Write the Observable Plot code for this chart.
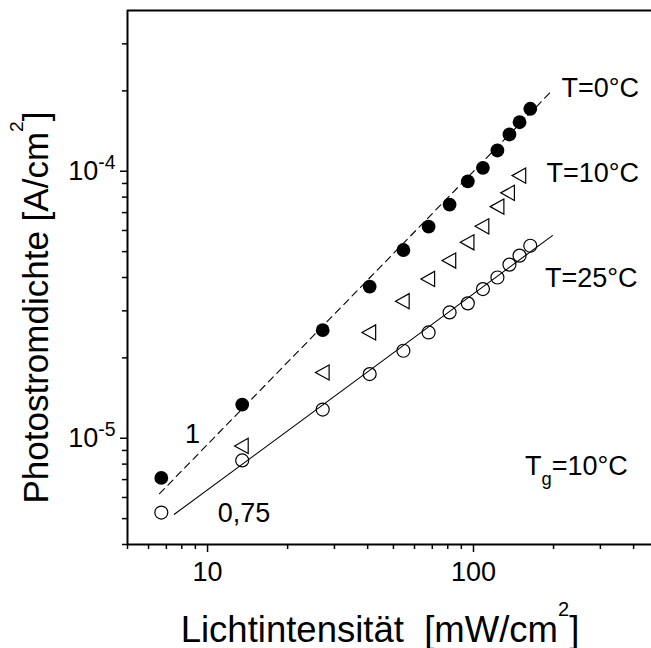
<!DOCTYPE html>
<html><head><meta charset="utf-8">
<script src="https://cdn.jsdelivr.net/npm/d3@7"></script>
<script src="https://cdn.jsdelivr.net/npm/@observablehq/plot@0.6"></script>
<style>body{margin:0;background:#fff;} svg text{white-space:pre;}</style>
</head><body><div id="chart"></div>
<script>
// Light intensity (mW/cm^2) for the circle series
const intensity = [6.7, 13.5, 27.1, 40.7, 54.5, 67.8, 81.3, 95.2, 108.5, 123, 136.5, 149, 163.5];
// T = 0 °C (filled circles)
const current0 = [7.1e-6, 1.337e-5, 2.54e-5, 3.70e-5, 5.07e-5, 6.20e-5, 7.50e-5, 9.17e-5, 1.03e-4, 1.196e-4, 1.373e-4, 1.526e-4, 1.714e-4];
// T = 25 °C (open circles)
const current25 = [5.27e-6, 8.26e-6, 1.281e-5, 1.739e-5, 2.127e-5, 2.49e-5, 2.96e-5, 3.20e-5, 3.62e-5, 4.00e-5, 4.47e-5, 4.83e-5, 5.26e-5];
// T = 10 °C (triangles)
const intensity10 = [13.4, 27, 40.4, 54, 67.3, 80.8, 94.6, 107.6, 122.6, 134.3, 148.1];
const current10 = [9.36e-6, 1.763e-5, 2.49e-5, 3.26e-5, 3.95e-5, 4.63e-5, 5.42e-5, 6.22e-5, 7.37e-5, 8.30e-5, 9.63e-5];
// Fit lines (slope 1 dashed, slope 0.75 solid)
const fitDashX = [6.6, 196];
const fitDashY = [6.2e-6, 1.99e-4];
const fitSolidX = [7.5, 198];
const fitSolidY = [5.19e-6, 5.74e-5];
// Ticks
const xMajor = [10, 100];
const xTickLabels = ["10", "100"];
const xMinor = [5, 6, 7, 8, 9, 20, 30, 40, 50, 60, 70, 80, 90, 200, 300, 400];
const yMajor = [1e-5, 1e-4];
const yTickLabels = ["10^{-5}", "10^{-4}"];
const yMinor = [4e-6, 5e-6, 6e-6, 7e-6, 8e-6, 9e-6, 2e-5, 3e-5, 4e-5, 5e-5, 6e-5, 7e-5, 8e-5, 9e-5, 2e-4, 3e-4];
// Annotations
const labelText = ["T=0°C", "T=10°C", "T=25°C", "T_{g}=10°C", "1", "0,75"];
const labelX = [214.2, 188.1, 185.7, 156.2, 8.23, 10.93];
const labelY = [1.895e-4, 9.09e-5, 3.67e-5, 7.29e-6, 9.63e-6, 4.85e-6];
const xTitle = "Lichtintensität  [mW/cm^{2}]";
const yTitle = "Photostromdichte [A/cm^{2}]";

const filled = intensity.map((x, i) => ({x, y: current0[i]}));
const open = intensity.map((x, i) => ({x, y: current25[i]}));
const tri = intensity10.map((x, i) => ({x, y: current10[i]}));
const dash = fitDashX.map((x, i) => ({x, y: fitDashY[i]}));
const solid = fitSolidX.map((x, i) => ({x, y: fitSolidY[i]}));
const labels = labelText.map((t, i) => ({t, x: labelX[i], y: labelY[i]}));

const leftTriangle = {
  draw(ctx, size) {
    const r = Math.sqrt(size / Math.PI);
    ctx.moveTo(-0.9 * r, 0);
    ctx.lineTo(0.9 * r, -r);
    ctx.lineTo(0.9 * r, r);
    ctx.closePath();
  }
};

const svg = Plot.plot({
  width: 651, height: 648,
  marginLeft: 127, marginRight: 0, marginTop: 10, marginBottom: 104,
  style: {fontFamily: "'Liberation Sans', Arial, sans-serif", background: "white", color: "black"},
  x: {type: "log", domain: [5, 467], axis: null},
  y: {type: "log", domain: [4e-6, 4e-4], axis: null},
  marks: [
    Plot.axisX(xMinor, {anchor: "bottom", tickSize: 5, tickFormat: () => "", strokeWidth: 1.5, label: null}),
    Plot.axisX(xMajor, {anchor: "bottom", tickSize: 8, tickPadding: 9, fontSize: 27, strokeWidth: 1.5, label: null,
      tickFormat: d => xTickLabels[xMajor.indexOf(d)]}),
    Plot.axisY(yMinor, {anchor: "left", tickSize: 5, tickFormat: () => "", strokeWidth: 1.5, label: null}),
    Plot.axisY(yMajor, {anchor: "left", tickSize: 7, tickPadding: 5, fontSize: 27, strokeWidth: 1.5, label: null,
      tickFormat: d => yTickLabels[yMajor.indexOf(d)]}),
    Plot.ruleY([4e-4], {strokeWidth: 2}),
    Plot.ruleY([4e-6], {strokeWidth: 2}),
    Plot.ruleX([5], {strokeWidth: 2}),
    Plot.line(dash, {x: "x", y: "y", stroke: "black", strokeWidth: 1.1, strokeDasharray: "7,5"}),
    Plot.line(solid, {x: "x", y: "y", stroke: "black", strokeWidth: 1.1}),
    Plot.dot(filled, {x: "x", y: "y", r: 6.9, fill: "black", stroke: null}),
    Plot.dot(open, {x: "x", y: "y", r: 6.5, fill: "none", stroke: "black", strokeWidth: 1.2}),
    Plot.dot(tri, {x: "x", y: "y", r: 7.6, symbol: leftTriangle, fill: "none", stroke: "black", strokeWidth: 1.2}),
    Plot.text(labels, {x: "x", y: "y", text: "t", textAnchor: "start", lineAnchor: "bottom", fontSize: 27, fill: "black"}),
    Plot.text([xTitle], {text: d => d, frameAnchor: "bottom", textAnchor: "middle", lineAnchor: "bottom", dx: -9.5, dy: 97, fontSize: 36.5, fill: "black"}),
    Plot.text([yTitle], {text: d => d, frameAnchor: "left", textAnchor: "middle", lineAnchor: "bottom", rotate: -90, dx: -80, dy: 30, fontSize: 35, fill: "black"})
  ]
});
document.getElementById("chart").appendChild(svg);

// Turn ^{..} and _{..} into super/subscript tspans
svg.querySelectorAll("text").forEach(el => {
  const s = el.textContent;
  if (!/[\^_]\{/.test(s)) return;
  const fs = parseFloat(getComputedStyle(el).fontSize);
  const big = fs > 30;
  const supSize = big ? 0.55 : 0.72, supShift = big ? 0.7 : 0.42;
  const subSize = 0.68, subShift = 0.39;
  while (el.firstChild) el.removeChild(el.firstChild);
  let cur = 0;
  s.split(/(\^\{[^}]*\}|_\{[^}]*\})/).forEach(part => {
    if (!part) return;
    const t = document.createElementNS("http://www.w3.org/2000/svg", "tspan");
    let target = 0, txt = part;
    if (part.startsWith("^{")) { target = -supShift * fs; txt = part.slice(2, -1); t.setAttribute("font-size", supSize * fs); }
    else if (part.startsWith("_{")) { target = subShift * fs; txt = part.slice(2, -1); t.setAttribute("font-size", subSize * fs); }
    if (target !== cur) t.setAttribute("dy", target - cur);
    cur = target;
    t.textContent = txt;
    el.appendChild(t);
  });
});
</script>
</body></html>
